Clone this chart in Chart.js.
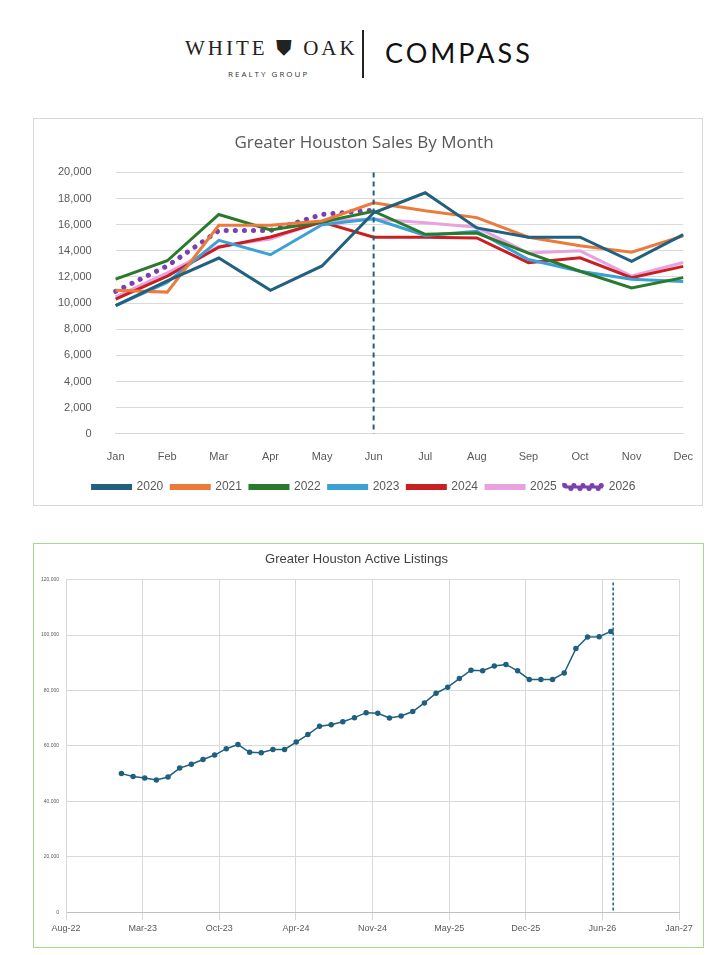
<!DOCTYPE html>
<html>
<head>
<meta charset="utf-8">
<script src="https://cdn.jsdelivr.net/npm/chart.js@4"></script>
<style>
  body { margin: 0; background: #fff; font-family: "Open Sans", sans-serif; }
  .hdr { position: absolute; top: 30px; left: 0; width: 725px; height: 50px; }
  .wo { position: absolute; left: 185px; top: 6px; font-family: "Liberation Serif", serif; font-size: 21px; letter-spacing: 3px; color: #222; }
  .rg { position: absolute; left: 228px; top: 38px; font-size: 8px; letter-spacing: 2px; color: #333; }
  .bar { position: absolute; left: 362px; top: 0; width: 2px; height: 48px; background: #222; }
  .cmp { position: absolute; left: 385px; top: 6px; font-family: "Lato", sans-serif; font-size: 27px; letter-spacing: 3px; color: #111; }
  .box { position: absolute; box-sizing: border-box; }
  #b1 { left: 33px; top: 118px; width: 670px; height: 388px; border: 1px solid #d9d9d9; }
  #b2 { left: 33px; top: 543px; width: 671px; height: 405px; border: 1px solid #a8d88a; }
</style>
</head>
<body>
<div class="hdr">
  <div class="wo">WHITE &#x26CA; OAK</div>
  <div class="rg">REALTY GROUP</div>
  <div class="bar"></div>
  <div class="cmp">COMPASS</div>
</div>
<div class="box" id="b1"><canvas id="c1" width="668" height="386"></canvas></div>
<div class="box" id="b2"><canvas id="c2" width="669" height="403"></canvas></div>
<script>
var months = ['Jan', 'Feb', 'Mar', 'Apr', 'May', 'Jun', 'Jul', 'Aug', 'Sep', 'Oct', 'Nov', 'Dec'];
var s2020 = [9800, 11700, 13450, 10980, 12840, 16910, 18440, 15750, 15040, 15040, 13190, 15240];
var s2021 = [10980, 10840, 15950, 15950, 16280, 17680, 17060, 16540, 15040, 14390, 13900, 15140];
var s2022 = [11830, 13240, 16780, 15600, 16200, 17030, 15260, 15360, 13830, 12440, 11160, 11950];
var s2023 = [9800, 11580, 14800, 13700, 16000, 16450, 15180, 15500, 13330, 12440, 11830, 11650];
var s2024 = [10300, 12070, 14270, 15060, 16200, 15040, 15040, 14990, 13090, 13460, 11950, 12810];
var s2025 = [10470, 12320, 14340, 14910, 16280, 16440, 16150, 15800, 13830, 14000, 12070, 13110];
var s2026 = [10900, 12840, 15550, 15550, 16780, 17110];

// active listings, monthly Dec-22 .. Jun-26
var listings = [50000, 49000, 48400, 47700, 48800, 52000, 53400, 55100, 56700, 59000, 60500, 57700,
  57500, 58700, 58700, 61400, 64100, 67100, 67600, 68700, 70200, 72000, 71800, 70100, 70800, 72400,
  75500, 79000, 81200, 84300, 87300, 87100, 88800, 89400, 87100, 84000, 84000, 84000, 86300, 95100,
  99300, 99400, 101300];
var dateTicks = ['Aug-22', 'Mar-23', 'Oct-23', 'Apr-24', 'Nov-24', 'May-25', 'Dec-25', 'Jun-26', 'Jan-27'];
var firstMonth = 4.75;  // first point, in months after Aug-22
var tickStep = 6.575;   // months between axis labels

var vline = {
  id: 'vline',
  afterDatasetsDraw: function (chart, args, opts) {
    var x = chart.scales.x.getPixelForValue(opts.at);
    var ctx = chart.ctx;
    ctx.save();
    ctx.strokeStyle = opts.color;
    ctx.lineWidth = opts.width;
    ctx.setLineDash(opts.dash);
    ctx.beginPath();
    ctx.moveTo(x, chart.chartArea.top - opts.over);
    ctx.lineTo(x, chart.chartArea.bottom);
    ctx.stroke();
    ctx.restore();
  }
};

function line(label, data, color) {
  return { label: label, data: data, borderColor: color, backgroundColor: color, borderWidth: 3, pointRadius: 0, tension: 0 };
}

new Chart(document.getElementById('c1'), {
  type: 'line',
  data: {
    labels: months,
    datasets: [
      line('2020', s2020, '#22607f'),
      line('2021', s2021, '#ec7a3a'),
      line('2022', s2022, '#2a7a2e'),
      line('2023', s2023, '#3aa0d6'),
      line('2024', s2024, '#c81f22'),
      line('2025', s2025, '#e8a2e0'),
      { label: '2026', data: s2026, borderColor: '#7a3fb0', backgroundColor: '#7a3fb0', borderWidth: 5,
        borderDash: [0.1, 9], borderCapStyle: 'round', pointRadius: 0 }
    ]
  },
  plugins: [vline],
  options: {
    responsive: false,
    animation: false,
    layout: { padding: { left: 0, right: 8, top: 4, bottom: 2 } },
    plugins: {
      vline: { at: 5, color: '#1f5f7f', width: 2, dash: [5, 4], over: 0 },
      title: { display: true, text: 'Greater Houston Sales By Month', color: '#595959',
        font: { size: 17, family: 'Open Sans', weight: 'normal' }, padding: { top: 10, bottom: 19 } },
      legend: { position: 'bottom', labels: { color: '#595959', font: { size: 12 }, boxWidth: 38, boxHeight: 3,
        padding: 8 } },
      tooltip: { enabled: false }
    },
    scales: {
      x: { offset: false, grid: { display: false }, border: { color: '#d9d9d9' },
        ticks: { color: '#595959', font: { size: 11 }, padding: 9, maxRotation: 0 } },
      y: { min: 0, max: 20000, ticks: { stepSize: 2000, color: '#595959', font: { size: 11 }, padding: 24,
          callback: function (v) { return v.toLocaleString('en-US'); } },
        grid: { color: '#d9d9d9', drawTicks: false }, border: { display: false } }
    }
  }
});

var pts = listings.map(function (v, i) { return { x: firstMonth + i, y: v }; });

new Chart(document.getElementById('c2'), {
  type: 'line',
  data: {
    datasets: [{ data: pts, borderColor: '#1f5f7f', backgroundColor: '#1f5f7f', borderWidth: 1.5,
      pointRadius: 2, tension: 0 }]
  },
  plugins: [vline],
  options: {
    responsive: false,
    animation: false,
    layout: { padding: { left: 0, right: 24, top: 0, bottom: 10 } },
    plugins: {
      vline: { at: firstMonth + listings.length - 1 + 0.2, color: '#1f5f7f', width: 1.5, dash: [3, 2], over: -3 },
      title: { display: true, text: 'Greater Houston Active Listings', color: '#404040',
        font: { size: 13, weight: 'normal' }, padding: { top: 8, bottom: 12 } },
      legend: { display: false },
      tooltip: { enabled: false }
    },
    scales: {
      x: { type: 'linear', min: 0, max: tickStep * 8,
        afterBuildTicks: function (ax) {
          ax.ticks = dateTicks.map(function (t, i) { return { value: i * tickStep }; });
        },
        ticks: { color: '#595959', font: { size: 9 }, maxRotation: 0,
          callback: function (v, i) { return dateTicks[i]; } },
        grid: { color: '#d9d9d9' }, border: { color: '#bfbfbf' } },
      y: { min: 0, max: 120000, ticks: { stepSize: 20000, color: '#595959', font: { size: 5 }, padding: 7,
          callback: function (v) { return v.toLocaleString('en-US'); } },
        grid: { color: '#d9d9d9', drawTicks: false }, border: { color: '#d9d9d9' } }
    }
  }
});
</script>
</body>
</html>
